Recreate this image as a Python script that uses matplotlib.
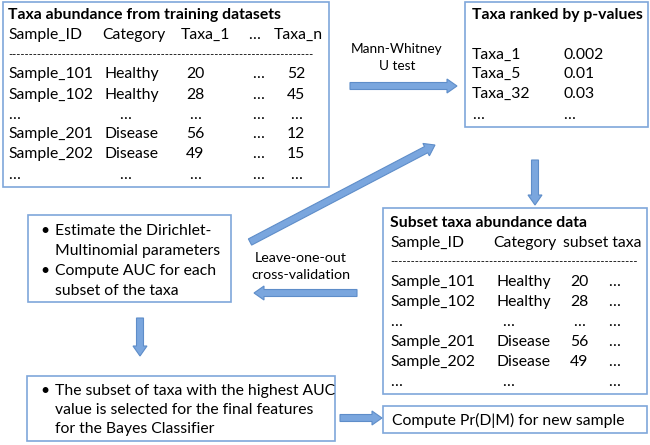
import matplotlib.pyplot as plt
from matplotlib.patches import Rectangle, FancyArrow

plt.rcParams['font.family'] = ['Lato', 'DejaVu Sans']

# table contents
sample_ids = ['Sample_101', 'Sample_102', '…', 'Sample_201', 'Sample_202', '…']
categories = ['Healthy', 'Healthy', '…', 'Disease', 'Disease', '…']
taxa_1 = ['20', '28', '…', '56', '49', '…']
taxa_n = ['52', '45', '…', '12', '15', '…']
subset_vals = ['20', '28', '…', '56', '49', '']

ranked_taxa = ['Taxa_1', 'Taxa_5', 'Taxa_32', '…']
p_values = ['0.002', '0.01', '0.03', '…']

step3_lines = ['Estimate the Dirichlet-', 'Multinomial parameters',
               'Compute AUC for each', 'subset of the taxa']
step4_lines = ['The subset of taxa with the highest AUC',
               'value is selected for the final features',
               'for the Bayes Classifier']

border = '#7FA7DA'
arrow_fc = '#7AA6DE'
arrow_ec = '#5E8DC9'
fs = 11.3

fig = plt.figure(figsize=(6.5, 4.45), dpi=100)
ax = fig.add_axes([0, 0, 1, 1])
ax.set_xlim(0, 650)
ax.set_ylim(445, 0)
ax.axis('off')


def box(x0, y0, x1, y1):
    ax.add_patch(Rectangle((x0, y0), x1 - x0, y1 - y0, fill=False,
                           ec=border, lw=1.2))


def arrow(x0, y0, x1, y1):
    ax.add_patch(FancyArrow(x0, y0, x1 - x0, y1 - y0, width=7,
                            head_width=14, head_length=10,
                            length_includes_head=True,
                            fc=arrow_fc, ec=arrow_ec, lw=0.8))


def txt(x, y, s, ha='left', **kw):
    kw.setdefault('fontsize', fs)
    ax.text(x, y, s, ha=ha, va='center', **kw)


# box 1: training data
box(3, 2, 329, 187)
txt(8, 15, 'Taxa abundance from training datasets', fontweight='bold')
for x, s in zip([8, 102, 181, 248, 274],
                ['Sample_ID', 'Category', 'Taxa_1', '…', 'Taxa_n']):
    txt(x, 35, s)
txt(8, 55, '-' * 74, fontsize=8)
rows_y = [74, 95, 115, 134, 154, 175]
for i, y in enumerate(rows_y):
    txt(8, y, sample_ids[i])
    if categories[i] == '…':
        txt(125, y, '…', ha='center')
    else:
        txt(105, y, categories[i])
    txt(195, y, taxa_1[i], ha='center')
    txt(258, y, '…', ha='center')
    txt(296, y, taxa_n[i], ha='center')

# box 2: ranked taxa
box(465, 2, 648, 127)
txt(557, 15, 'Taxa ranked by p-values', ha='center', fontweight='bold')
for i, y in enumerate([55, 74, 94, 115]):
    txt(472, y, ranked_taxa[i])
    txt(563, y, p_values[i])

# box 3: DM estimation
box(28, 215, 231, 302)
for i, y in enumerate([231, 251, 271, 291]):
    if i in (0, 2):
        txt(40, y, '•')
    txt(55, y, step3_lines[i])

# box 4: selection
box(27, 376, 335, 441)
txt(40, 391, '•')
for i, y in enumerate([391, 410, 429]):
    txt(55, y, step4_lines[i])

# box 5: subset data
box(383, 208, 647, 394)
txt(390, 223, 'Subset taxa abundance data', fontweight='bold')
txt(390, 243, 'Sample_ID')
txt(493, 243, 'Category')
txt(563, 243, 'subset taxa')
txt(390, 262, '-' * 60, fontsize=8)
for i, y in enumerate([282, 302, 322, 342, 362, 382]):
    txt(390, y, sample_ids[i])
    if categories[i] == '…':
        txt(508, y, '…', ha='center')
    else:
        txt(497, y, categories[i])
    txt(579, y, subset_vals[i], ha='center')
    txt(614, y, '…', ha='center')

# box 6: prediction
box(383, 406, 647, 433)
txt(392, 420, 'Compute Pr(D|M) for new sample')

# arrows
arrow(350, 86, 457, 86)
txt(397, 49, 'Mann-Whitney', ha='center', fontsize=9.8)
txt(397, 66, 'U test', ha='center', fontsize=9.8)
arrow(250, 242, 435, 145)
arrow(535, 160, 535, 205)
arrow(357, 293, 254, 293)
txt(301, 258, 'Leave-one-out', ha='center', fontsize=10.3)
txt(301, 275, 'cross-validation', ha='center', fontsize=10.3)
arrow(140, 318, 140, 356)
arrow(340, 418, 382, 418)

fig.savefig('out.png', dpi=100)
